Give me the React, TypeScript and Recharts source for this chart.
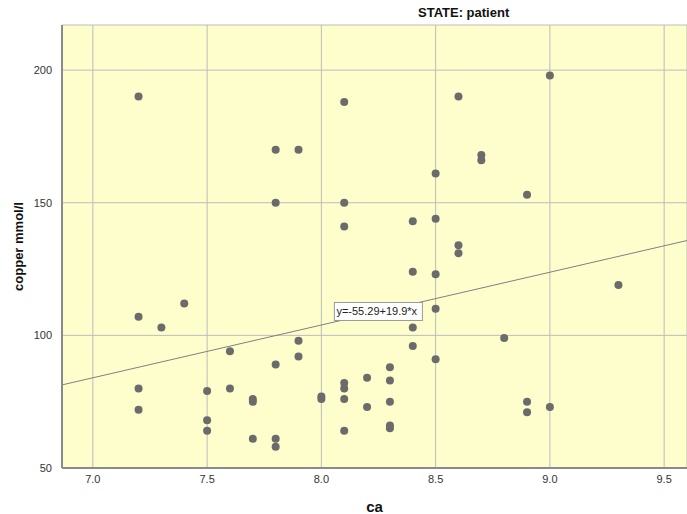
import {
  ScatterChart,
  Scatter,
  XAxis,
  YAxis,
  CartesianGrid,
  ReferenceLine,
  ReferenceDot,
} from "recharts";

// ─── Data ─────────────────────────────────────────────────────────────────────

const caValues = [
  7.2, 7.2, 7.2, 7.2, 7.3, 7.4, 7.5, 7.5, 7.5, 7.6, 7.6, 7.7, 7.7, 7.7,
  7.8, 7.8, 7.8, 7.8, 7.8, 7.9, 7.9, 7.9, 8.0, 8.0,
  8.1, 8.1, 8.1, 8.1, 8.1, 8.1, 8.1, 8.2, 8.2,
  8.3, 8.3, 8.3, 8.3, 8.3, 8.4, 8.4, 8.4, 8.4,
  8.5, 8.5, 8.5, 8.5, 8.5, 8.6, 8.6, 8.6, 8.7, 8.7, 8.8,
  8.9, 8.9, 8.9, 9.0, 9.0, 9.3,
];

const copperValues = [
  190, 107, 80, 72, 103, 112, 79, 68, 64, 94, 80, 76, 75, 61,
  170, 150, 89, 61, 58, 170, 98, 92, 77, 76,
  188, 150, 141, 82, 80, 76, 64, 84, 73,
  88, 83, 75, 66, 65, 143, 124, 103, 96,
  161, 144, 123, 110, 91, 190, 134, 131, 168, 166, 99,
  153, 75, 71, 198, 73, 119,
];

const xTicks = [7.0, 7.5, 8.0, 8.5, 9.0, 9.5];
const yTicks = [50, 100, 150, 200];

// fit line as printed on the chart: y = -55.29 + 19.9 * x
const fitIntercept = -55.29;
const fitSlope = 19.9;
const fitLabel = "y=-55.29+19.9*x";

// ─── Layout ───────────────────────────────────────────────────────────────────

const X_DOMAIN: [number, number] = [6.865, 9.6];
const Y_DOMAIN: [number, number] = [50, 217];
const FONT = "'Liberation Sans', Arial, sans-serif";
const TICK = { fill: "#333", fontSize: 11, fontFamily: FONT };

const points = caValues.map((ca, i) => ({ ca, copper: copperValues[i] }));

const fitAt = (x: number) => fitIntercept + fitSlope * x;

function FitLabel({ viewBox }: { viewBox?: { x: number; y: number } }) {
  if (!viewBox) return null;
  const { x, y } = viewBox;
  return (
    <g>
      <rect x={x} y={y} width={88} height={18} fill="#fff" stroke="#999" strokeWidth={1} />
      <text x={x + 2} y={y + 13} fontSize={11} fontFamily={FONT} fill="#222">
        {fitLabel}
      </text>
    </g>
  );
}

function Dot(props: { cx?: number; cy?: number }) {
  const { cx, cy } = props;
  if (cx == null || cy == null) return null;
  return <circle cx={cx} cy={cy} r={4} fill="#6b6b6b" />;
}

export default function App() {
  return (
    <div style={{ position: "absolute", left: 0, top: 0, width: 687, height: 514, background: "#fff" }}>
      <div
        style={{
          position: "absolute",
          left: 418,
          top: 5,
          fontFamily: FONT,
          fontWeight: "bold",
          fontSize: 13,
          color: "#111",
        }}
      >
        STATE: patient
      </div>
      <ScatterChart width={687} height={514} margin={{ top: 25, right: 0, bottom: 0, left: 0 }}>
        <CartesianGrid fill="#fefdcc" stroke="#bcbcbc" strokeWidth={1} />
        <XAxis
          type="number"
          dataKey="ca"
          domain={X_DOMAIN}
          ticks={xTicks}
          tickFormatter={(v: number) => v.toFixed(1)}
          allowDataOverflow
          height={46}
          tick={TICK}
          tickLine={false}
          axisLine={{ stroke: "#8a8a8a", strokeWidth: 2 }}
          tickMargin={1}
          label={{
            value: "ca",
            position: "insideBottom",
            offset: 2,
            style: { fontFamily: FONT, fontWeight: "bold", fontSize: 15, fill: "#111" },
          }}
        />
        <YAxis
          type="number"
          dataKey="copper"
          domain={Y_DOMAIN}
          ticks={yTicks}
          allowDataOverflow
          width={62}
          tick={TICK}
          tickLine={false}
          axisLine={{ stroke: "#8a8a8a", strokeWidth: 2 }}
          tickMargin={4}
          label={{
            value: "copper mmol/l",
            angle: -90,
            position: "insideLeft",
            offset: 18,
            style: { textAnchor: "middle", fontFamily: FONT, fontWeight: "bold", fontSize: 13, fill: "#111" },
          }}
        />
        <ReferenceLine
          segment={[
            { x: X_DOMAIN[0], y: fitAt(X_DOMAIN[0]) },
            { x: X_DOMAIN[1], y: fitAt(X_DOMAIN[1]) },
          ]}
          stroke="#808080"
          strokeWidth={1}
        />
        <Scatter data={points} shape={<Dot />} isAnimationActive={false} />
        <ReferenceDot x={8.057} y={112.4} r={0} label={<FitLabel />} />
      </ScatterChart>
    </div>
  );
}
